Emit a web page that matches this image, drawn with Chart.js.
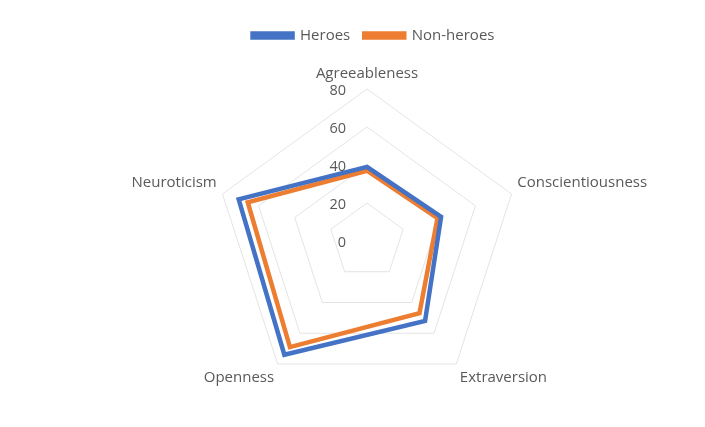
<!DOCTYPE html>
<html>
<head>
<meta charset="utf-8">
<script src="https://cdn.jsdelivr.net/npm/chart.js"></script>
<style>
  html, body { margin: 0; padding: 0; background: #fff; }
  #wrap { width: 705px; height: 427px; }
</style>
</head>
<body>
<div id="wrap"><canvas id="radarChart" width="705" height="427"></canvas></div>
<script>
const traits = ["Agreeableness", "Conscientiousness", "Extraversion", "Openness", "Neuroticism"];
const heroes = [39, 41, 52, 74, 71];
const nonHeroes = [37, 39, 47, 69, 66];
const tickValues = [0, 20, 40, 60, 80];

// Excel puts the axis numbers left of the vertical axis, "0" included
const tickLabelPlugin = {
    id: "tickLabels",
    afterDatasetsDraw(chart) {
        const scale = chart.scales.r;
        const ctx = chart.ctx;
        ctx.save();
        ctx.font = "14.5px 'Open Sans'";
        ctx.fillStyle = "#595959";
        ctx.textAlign = "right";
        ctx.textBaseline = "middle";
        tickValues.forEach(v => {
            const y = scale.yCenter - scale.getDistanceFromCenterForValue(v);
            ctx.fillText(String(v), scale.xCenter - 21, y + 2);
        });
        ctx.restore();
    }
};

new Chart(document.getElementById("radarChart").getContext("2d"), {
    type: "radar",
    data: {
        labels: traits,
        datasets: [
            {
                label: "Heroes",
                data: heroes,
                borderColor: "#4472C4",
                backgroundColor: "#4472C4",
                borderWidth: 4.5,
                fill: false,
                pointRadius: 0,
                pointHoverRadius: 0
            },
            {
                label: "Non-heroes",
                data: nonHeroes,
                borderColor: "#ED7D31",
                backgroundColor: "#ED7D31",
                borderWidth: 4.5,
                fill: false,
                pointRadius: 0,
                pointHoverRadius: 0
            }
        ]
    },
    options: {
        responsive: false,
        animation: false,
        layout: { padding: { top: 14, bottom: 22, left: 81, right: 39 } },
        plugins: {
            legend: {
                position: "top",
                labels: {
                    boxWidth: 40,
                    boxHeight: 4,
                    color: "#595959",
                    font: { family: "'Open Sans'", size: 15 },
                    padding: 14
                }
            },
            tooltip: { enabled: false }
        },
        scales: {
            r: {
                min: 0,
                max: 80,
                ticks: { stepSize: 20, display: false },
                grid: { color: "#e4e4e4", lineWidth: 1 },
                angleLines: { display: false },
                pointLabels: {
                    color: "#595959",
                    font: { family: "'Open Sans'", size: 15 },
                    padding: 6
                }
            }
        }
    },
    plugins: [tickLabelPlugin]
});
</script>
</body>
</html>
